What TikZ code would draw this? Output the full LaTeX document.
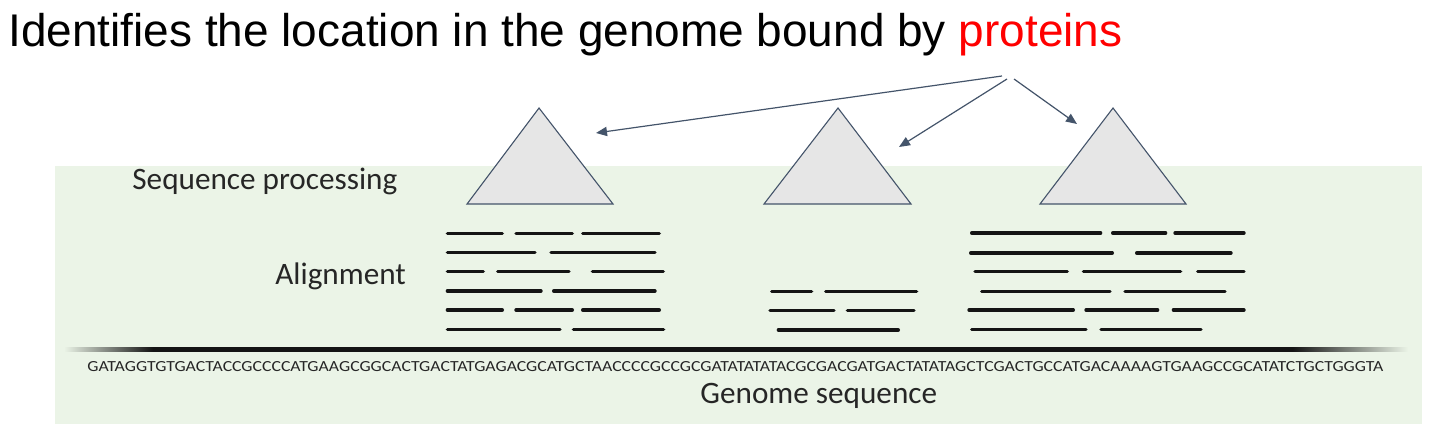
\documentclass[tikz,border=0pt]{standalone}
\usepackage{fontspec}
\setmainfont{Carlito}
\newfontfamily\titlefont{Liberation Sans}
\usetikzlibrary{arrows.meta}
\definecolor{bggreen}{RGB}{235,244,231}
\definecolor{slate}{RGB}{68,84,106}
\definecolor{trifill}{RGB}{230,230,230}
\definecolor{barcol}{RGB}{20,20,20}
\pgfdeclarehorizontalshading{genomeline}{100bp}{color(0bp)=(bggreen); color(25bp)=(bggreen); color(28.3bp)=(barcol); color(70.7bp)=(barcol); color(75bp)=(bggreen); color(100bp)=(bggreen)}
\tikzset{
  protri/.style={fill=trifill,draw=slate,line width=0.55pt,line join=miter},
  protarrow/.style={draw=slate,line width=0.6pt,-{Triangle[length=5.5pt,width=4.6pt]}},
  readbar/.style={draw=barcol,line width=1.75pt,line cap=round},
  lbl/.style={inner sep=0pt,anchor=base west,font=\fontsize{15.6}{18}\selectfont,text=black!85},
}
\begin{document}
\begin{tikzpicture}[x=0.5pt,y=-0.5pt]
\useasboundingbox (0,0) rectangle (1439,448);
% background panel
\fill[bggreen] (55,166) rectangle (1422,424);
% title
\node[inner sep=0pt,anchor=base west] (title) at (8,47)
  {\resizebox{557pt}{16.6pt}{\titlefont Identifies the location in the genome bound by \textcolor{red}{proteins}}};
% triangles
\coordinate (t1a) at (539,108); \coordinate (t1l) at (467,204); \coordinate (t1r) at (613,204);
\coordinate (t2a) at (838,108); \coordinate (t2l) at (764,204); \coordinate (t2r) at (911,204);
\coordinate (t3a) at (1113,108); \coordinate (t3l) at (1040,204); \coordinate (t3r) at (1186,204);
\path[protri] (t1a) -- (t1r) -- (t1l) -- cycle;
\path[protri] (t2a) -- (t2r) -- (t2l) -- cycle;
\path[protri] (t3a) -- (t3r) -- (t3l) -- cycle;
% arrows
\coordinate (s1) at (1002,76); \coordinate (e1) at (596,133);
\coordinate (s2) at (1007,79); \coordinate (e2) at (899,147);
\coordinate (s3) at (1014,79); \coordinate (e3) at (1077,124);
\draw[protarrow] (s1) -- (e1);
\draw[protarrow] (s2) -- (e2);
\draw[protarrow] (s3) -- (e3);
% labels
\node[lbl] (seqproc) at (132,190) {Sequence processing};
\node[lbl] (align) at (275,284.3) {Alignment};
\node[lbl] (genseq) at (700,403.3) {Genome sequence};
% reads group 1
\foreach \y/\a/\b in {
  233.3/445.7/504, 233.3/514.3/574, 233.3/581/661,
  252.7/445.7/536.7, 252.7/549.3/656.7,
  271.7/445.7/485, 271.7/496/570.7, 271.7/590.7/665,
  291/445.7/542.7, 291/552/656.7,
  310/445.7/504, 310/514.3/574, 310/581/661,
  329.3/445.7/561.7, 329.3/571.7/665.3}
  {\draw[readbar] (\a+1.75,\y) -- (\b-1.75,\y);}
% reads group 2
\foreach \y/\a/\b in {
  291.7/770/813.3, 291.7/824/918.3,
  310.7/768.3/835.7, 310.7/845.7/915.7,
  330/776.7/900}
  {\draw[readbar] (\a+1.75,\y) -- (\b-1.75,\y);}
% reads group 3
\foreach \y/\a/\b in {
  233/970/1102.3, 233/1111/1167.3, 233/1173.3/1245.7,
  253/969/1114, 253/1135/1232.7,
  271.7/973.3/1069, 271.7/1081.7/1182.3, 271.7/1196/1245.7,
  291.3/980/1111.7, 291.3/1123.3/1226.7,
  310/967.3/1075, 310/1084.3/1159.3, 310/1171.7/1245.7,
  329.3/970/1087.7, 329.3/1099.3/1202.7}
  {\draw[readbar] (\a+1.75,\y) -- (\b-1.75,\y);}
% genome line with faded ends
\shade[shading=genomeline] (64,348) rectangle (1408,352);
% sequence
\node[inner sep=0pt,anchor=base west,text=black!85] (dna) at (87,371.7)
  {\resizebox{648pt}{5pt}{GATAGGTGTGACTACCGCCCCATGAAGCGGCACTGACTATGAGACGCATGCTAACCCCGCCGCGATATATATACGCGACGATGACTATATAGCTCGACTGCCATGACAAAAGTGAAGCCGCATATCTGCTGGGTA}};
\end{tikzpicture}
\end{document}
